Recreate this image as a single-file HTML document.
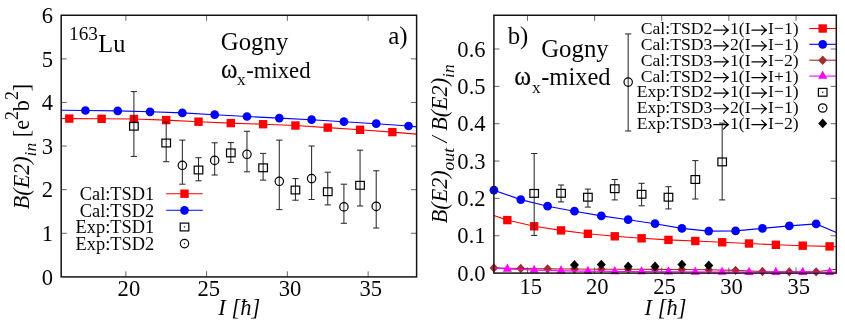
<!DOCTYPE html>
<html><head><meta charset="utf-8"><title>chart</title>
<style>html,body{margin:0;padding:0;background:#fff;}svg{display:block;}</style>
</head><body>
<svg width="845" height="329" viewBox="0 0 845 329" font-family='"Liberation Serif", serif' fill="#000" style="will-change:transform;font-kerning:none">
<style>text{stroke:#fff;stroke-width:0.03;paint-order:fill stroke}</style>
<rect width="845" height="329" fill="#fff"/>
<line x1="61.20" y1="233.29" x2="66.80" y2="233.29" stroke="#606060" stroke-width="0.95" />
<line x1="416.60" y1="233.29" x2="411.00" y2="233.29" stroke="#606060" stroke-width="0.95" />
<line x1="61.20" y1="189.68" x2="66.80" y2="189.68" stroke="#606060" stroke-width="0.95" />
<line x1="416.60" y1="189.68" x2="411.00" y2="189.68" stroke="#606060" stroke-width="0.95" />
<line x1="61.20" y1="146.07" x2="66.80" y2="146.07" stroke="#606060" stroke-width="0.95" />
<line x1="416.60" y1="146.07" x2="411.00" y2="146.07" stroke="#606060" stroke-width="0.95" />
<line x1="61.20" y1="102.47" x2="66.80" y2="102.47" stroke="#606060" stroke-width="0.95" />
<line x1="416.60" y1="102.47" x2="411.00" y2="102.47" stroke="#606060" stroke-width="0.95" />
<line x1="61.20" y1="58.86" x2="66.80" y2="58.86" stroke="#606060" stroke-width="0.95" />
<line x1="416.60" y1="58.86" x2="411.00" y2="58.86" stroke="#606060" stroke-width="0.95" />
<line x1="125.82" y1="276.90" x2="125.82" y2="271.30" stroke="#606060" stroke-width="0.95" />
<line x1="125.82" y1="15.25" x2="125.82" y2="20.85" stroke="#606060" stroke-width="0.95" />
<line x1="206.59" y1="276.90" x2="206.59" y2="271.30" stroke="#606060" stroke-width="0.95" />
<line x1="206.59" y1="15.25" x2="206.59" y2="20.85" stroke="#606060" stroke-width="0.95" />
<line x1="287.36" y1="276.90" x2="287.36" y2="271.30" stroke="#606060" stroke-width="0.95" />
<line x1="287.36" y1="15.25" x2="287.36" y2="20.85" stroke="#606060" stroke-width="0.95" />
<line x1="368.14" y1="276.90" x2="368.14" y2="271.30" stroke="#606060" stroke-width="0.95" />
<line x1="368.14" y1="15.25" x2="368.14" y2="20.85" stroke="#606060" stroke-width="0.95" />
<polyline fill="none" stroke="#ff0000" stroke-width="1.1" points="61.20,118.50 69.28,118.60 101.59,118.80 133.90,119.00 166.20,120.10 198.51,121.70 230.82,123.10 263.13,124.20 295.44,125.50 327.75,127.60 360.06,129.80 392.37,132.10 416.60,134.10"/>
<rect x="65.08" y="114.40" width="8.4" height="8.4" fill="#ff0000"/>
<rect x="97.39" y="114.60" width="8.4" height="8.4" fill="#ff0000"/>
<rect x="129.70" y="114.80" width="8.4" height="8.4" fill="#ff0000"/>
<rect x="162.00" y="115.90" width="8.4" height="8.4" fill="#ff0000"/>
<rect x="194.31" y="117.50" width="8.4" height="8.4" fill="#ff0000"/>
<rect x="226.62" y="118.90" width="8.4" height="8.4" fill="#ff0000"/>
<rect x="258.93" y="120.00" width="8.4" height="8.4" fill="#ff0000"/>
<rect x="291.24" y="121.30" width="8.4" height="8.4" fill="#ff0000"/>
<rect x="323.55" y="123.40" width="8.4" height="8.4" fill="#ff0000"/>
<rect x="355.86" y="125.60" width="8.4" height="8.4" fill="#ff0000"/>
<rect x="388.17" y="127.90" width="8.4" height="8.4" fill="#ff0000"/>
<polyline fill="none" stroke="#0000ff" stroke-width="1.1" points="61.20,110.20 85.43,110.50 117.74,110.90 150.05,111.80 182.36,112.90 214.67,114.70 246.98,116.50 279.29,118.10 311.60,119.70 343.90,121.70 376.21,123.70 408.52,126.00 416.60,126.90"/>
<circle cx="85.43" cy="110.50" r="4.35" fill="#0000ff"/>
<circle cx="117.74" cy="110.90" r="4.35" fill="#0000ff"/>
<circle cx="150.05" cy="111.80" r="4.35" fill="#0000ff"/>
<circle cx="182.36" cy="112.90" r="4.35" fill="#0000ff"/>
<circle cx="214.67" cy="114.70" r="4.35" fill="#0000ff"/>
<circle cx="246.98" cy="116.50" r="4.35" fill="#0000ff"/>
<circle cx="279.29" cy="118.10" r="4.35" fill="#0000ff"/>
<circle cx="311.60" cy="119.70" r="4.35" fill="#0000ff"/>
<circle cx="343.90" cy="121.70" r="4.35" fill="#0000ff"/>
<circle cx="376.21" cy="123.70" r="4.35" fill="#0000ff"/>
<circle cx="408.52" cy="126.00" r="4.35" fill="#0000ff"/>
<line x1="133.90" y1="91.60" x2="133.90" y2="156.40" stroke="#2a2a2a" stroke-width="1.05" />
<line x1="130.80" y1="91.60" x2="137.00" y2="91.60" stroke="#2a2a2a" stroke-width="1.05" />
<line x1="130.80" y1="156.40" x2="137.00" y2="156.40" stroke="#2a2a2a" stroke-width="1.05" />
<rect x="129.60" y="122.30" width="8.6" height="7.8" fill="none" stroke="#000" stroke-width="1.2"/>
<line x1="166.20" y1="122.20" x2="166.20" y2="161.70" stroke="#2a2a2a" stroke-width="1.05" />
<line x1="163.10" y1="122.20" x2="169.30" y2="122.20" stroke="#2a2a2a" stroke-width="1.05" />
<line x1="163.10" y1="161.70" x2="169.30" y2="161.70" stroke="#2a2a2a" stroke-width="1.05" />
<rect x="161.90" y="139.10" width="8.6" height="7.8" fill="none" stroke="#000" stroke-width="1.2"/>
<line x1="198.51" y1="157.70" x2="198.51" y2="180.80" stroke="#2a2a2a" stroke-width="1.05" />
<line x1="195.41" y1="157.70" x2="201.61" y2="157.70" stroke="#2a2a2a" stroke-width="1.05" />
<line x1="195.41" y1="180.80" x2="201.61" y2="180.80" stroke="#2a2a2a" stroke-width="1.05" />
<rect x="194.21" y="166.10" width="8.6" height="7.8" fill="none" stroke="#000" stroke-width="1.2"/>
<line x1="230.82" y1="142.60" x2="230.82" y2="162.40" stroke="#2a2a2a" stroke-width="1.05" />
<line x1="227.72" y1="142.60" x2="233.92" y2="142.60" stroke="#2a2a2a" stroke-width="1.05" />
<line x1="227.72" y1="162.40" x2="233.92" y2="162.40" stroke="#2a2a2a" stroke-width="1.05" />
<rect x="226.52" y="149.00" width="8.6" height="7.8" fill="none" stroke="#000" stroke-width="1.2"/>
<line x1="263.13" y1="153.40" x2="263.13" y2="180.10" stroke="#2a2a2a" stroke-width="1.05" />
<line x1="260.03" y1="153.40" x2="266.23" y2="153.40" stroke="#2a2a2a" stroke-width="1.05" />
<line x1="260.03" y1="180.10" x2="266.23" y2="180.10" stroke="#2a2a2a" stroke-width="1.05" />
<rect x="258.83" y="163.90" width="8.6" height="7.8" fill="none" stroke="#000" stroke-width="1.2"/>
<line x1="295.44" y1="178.60" x2="295.44" y2="200.20" stroke="#2a2a2a" stroke-width="1.05" />
<line x1="292.34" y1="178.60" x2="298.54" y2="178.60" stroke="#2a2a2a" stroke-width="1.05" />
<line x1="292.34" y1="200.20" x2="298.54" y2="200.20" stroke="#2a2a2a" stroke-width="1.05" />
<rect x="291.14" y="186.10" width="8.6" height="7.8" fill="none" stroke="#000" stroke-width="1.2"/>
<line x1="327.75" y1="172.20" x2="327.75" y2="204.90" stroke="#2a2a2a" stroke-width="1.05" />
<line x1="324.65" y1="172.20" x2="330.85" y2="172.20" stroke="#2a2a2a" stroke-width="1.05" />
<line x1="324.65" y1="204.90" x2="330.85" y2="204.90" stroke="#2a2a2a" stroke-width="1.05" />
<rect x="323.45" y="187.80" width="8.6" height="7.8" fill="none" stroke="#000" stroke-width="1.2"/>
<line x1="360.06" y1="150.20" x2="360.06" y2="206.00" stroke="#2a2a2a" stroke-width="1.05" />
<line x1="356.96" y1="150.20" x2="363.16" y2="150.20" stroke="#2a2a2a" stroke-width="1.05" />
<line x1="356.96" y1="206.00" x2="363.16" y2="206.00" stroke="#2a2a2a" stroke-width="1.05" />
<rect x="355.76" y="181.40" width="8.6" height="7.8" fill="none" stroke="#000" stroke-width="1.2"/>
<line x1="182.36" y1="140.10" x2="182.36" y2="184.20" stroke="#2a2a2a" stroke-width="1.05" />
<line x1="179.26" y1="140.10" x2="185.46" y2="140.10" stroke="#2a2a2a" stroke-width="1.05" />
<line x1="179.26" y1="184.20" x2="185.46" y2="184.20" stroke="#2a2a2a" stroke-width="1.05" />
<circle cx="182.36" cy="165.30" r="4.2" fill="none" stroke="#000" stroke-width="1.2"/>
<line x1="214.67" y1="142.80" x2="214.67" y2="175.00" stroke="#2a2a2a" stroke-width="1.05" />
<line x1="211.57" y1="142.80" x2="217.77" y2="142.80" stroke="#2a2a2a" stroke-width="1.05" />
<line x1="211.57" y1="175.00" x2="217.77" y2="175.00" stroke="#2a2a2a" stroke-width="1.05" />
<circle cx="214.67" cy="160.40" r="4.2" fill="none" stroke="#000" stroke-width="1.2"/>
<line x1="246.98" y1="131.30" x2="246.98" y2="171.80" stroke="#2a2a2a" stroke-width="1.05" />
<line x1="243.88" y1="131.30" x2="250.08" y2="131.30" stroke="#2a2a2a" stroke-width="1.05" />
<line x1="243.88" y1="171.80" x2="250.08" y2="171.80" stroke="#2a2a2a" stroke-width="1.05" />
<circle cx="246.98" cy="154.30" r="4.2" fill="none" stroke="#000" stroke-width="1.2"/>
<line x1="279.29" y1="140.10" x2="279.29" y2="209.60" stroke="#2a2a2a" stroke-width="1.05" />
<line x1="276.19" y1="140.10" x2="282.39" y2="140.10" stroke="#2a2a2a" stroke-width="1.05" />
<line x1="276.19" y1="209.60" x2="282.39" y2="209.60" stroke="#2a2a2a" stroke-width="1.05" />
<circle cx="279.29" cy="181.30" r="4.2" fill="none" stroke="#000" stroke-width="1.2"/>
<line x1="311.60" y1="146.00" x2="311.60" y2="199.50" stroke="#2a2a2a" stroke-width="1.05" />
<line x1="308.50" y1="146.00" x2="314.70" y2="146.00" stroke="#2a2a2a" stroke-width="1.05" />
<line x1="308.50" y1="199.50" x2="314.70" y2="199.50" stroke="#2a2a2a" stroke-width="1.05" />
<circle cx="311.60" cy="178.60" r="4.2" fill="none" stroke="#000" stroke-width="1.2"/>
<line x1="343.90" y1="184.20" x2="343.90" y2="223.30" stroke="#2a2a2a" stroke-width="1.05" />
<line x1="340.80" y1="184.20" x2="347.00" y2="184.20" stroke="#2a2a2a" stroke-width="1.05" />
<line x1="340.80" y1="223.30" x2="347.00" y2="223.30" stroke="#2a2a2a" stroke-width="1.05" />
<circle cx="343.90" cy="206.90" r="4.2" fill="none" stroke="#000" stroke-width="1.2"/>
<line x1="376.21" y1="170.80" x2="376.21" y2="228.00" stroke="#2a2a2a" stroke-width="1.05" />
<line x1="373.11" y1="170.80" x2="379.31" y2="170.80" stroke="#2a2a2a" stroke-width="1.05" />
<line x1="373.11" y1="228.00" x2="379.31" y2="228.00" stroke="#2a2a2a" stroke-width="1.05" />
<circle cx="376.21" cy="206.40" r="4.2" fill="none" stroke="#000" stroke-width="1.2"/>
<line x1="166.20" y1="193.70" x2="202.80" y2="193.70" stroke="#ff0000" stroke-width="1.1" />
<rect x="180.30" y="189.50" width="8.4" height="8.4" fill="#ff0000"/>
<line x1="166.20" y1="210.30" x2="202.80" y2="210.30" stroke="#0000ff" stroke-width="1.1" />
<circle cx="184.50" cy="210.30" r="4.35" fill="#0000ff"/>
<rect x="180.20" y="223.10" width="8.6" height="7.8" fill="none" stroke="#000" stroke-width="1.2"/>
<rect x="183.85" y="226.35" width="1.3" height="1.3" fill="#222"/>
<circle cx="184.50" cy="243.60" r="4.2" fill="none" stroke="#000" stroke-width="1.2"/>
<rect x="183.85" y="242.95" width="1.3" height="1.3" fill="#222"/>
<text x="154.30" y="200.00" font-size="18.4" text-anchor="end"  style="">Cal:TSD1</text>
<text x="154.30" y="217.00" font-size="18.4" text-anchor="end"  style="">Cal:TSD2</text>
<text x="154.30" y="233.00" font-size="18.4" text-anchor="end"  style="">Exp:TSD1</text>
<text x="154.30" y="250.00" font-size="18.4" text-anchor="end"  style="">Exp:TSD2</text>
<rect x="61.2" y="15.25" width="355.40" height="261.65" fill="none" stroke="#141414" stroke-width="1.5"/>
<text x="53.00" y="284.60" font-size="22.6" text-anchor="end"  style="">0</text>
<text x="53.00" y="240.99" font-size="22.6" text-anchor="end"  style="">1</text>
<text x="53.00" y="197.38" font-size="22.6" text-anchor="end"  style="">2</text>
<text x="53.00" y="153.77" font-size="22.6" text-anchor="end"  style="">3</text>
<text x="53.00" y="110.17" font-size="22.6" text-anchor="end"  style="">4</text>
<text x="53.00" y="66.56" font-size="22.6" text-anchor="end"  style="">5</text>
<text x="53.00" y="22.95" font-size="22.6" text-anchor="end"  style="">6</text>
<text x="128.92" y="296.00" font-size="22.6" text-anchor="middle"  style="">20</text>
<text x="208.69" y="296.00" font-size="22.6" text-anchor="middle"  style="">25</text>
<text x="290.06" y="296.00" font-size="22.6" text-anchor="middle"  style="">30</text>
<text x="370.84" y="296.00" font-size="22.6" text-anchor="middle"  style="">35</text>
<text x="239.30" y="315.00" font-size="22.5" text-anchor="middle"  style="font-style:italic">I [ħ]</text>
<text transform="translate(29.4,209.2) rotate(-90)" font-size="22.1"><tspan font-style="italic">B(E2)</tspan><tspan font-style="italic" font-size="17.6" dy="6.3">in</tspan><tspan dy="-6.3"> [e</tspan><tspan font-size="17.8" dy="-11.3">2</tspan><tspan dy="11.3">b</tspan><tspan font-size="17.8" dy="-11.3">2</tspan><tspan dy="11.3">]</tspan></text>
<text x="69.00" y="40.00" font-size="19.3" text-anchor="start"  style="">163</text>
<text x="98.30" y="51.80" font-size="24.3" text-anchor="start"  style="">Lu</text>
<text x="220.80" y="50.00" font-size="24.8" text-anchor="start"  style="">Gogny</text>
<text transform="translate(221.02,77.80) scale(0.9,1)" font-size="27.8" style="stroke:#000;stroke-width:0.15;paint-order:normal">ω</text>
<text x="236.94" y="85.10" font-size="17.3" text-anchor="start"  style="">x</text>
<text x="246.26" y="77.80" font-size="22.7" text-anchor="start"  style="">-mixed</text>
<text x="388.20" y="44.30" font-size="25.0" text-anchor="start"  style="">a)</text>
<line x1="493.90" y1="235.75" x2="499.50" y2="235.75" stroke="#606060" stroke-width="0.95" />
<line x1="836.30" y1="235.75" x2="830.70" y2="235.75" stroke="#606060" stroke-width="0.95" />
<line x1="493.90" y1="198.40" x2="499.50" y2="198.40" stroke="#606060" stroke-width="0.95" />
<line x1="836.30" y1="198.40" x2="830.70" y2="198.40" stroke="#606060" stroke-width="0.95" />
<line x1="493.90" y1="161.05" x2="499.50" y2="161.05" stroke="#606060" stroke-width="0.95" />
<line x1="836.30" y1="161.05" x2="830.70" y2="161.05" stroke="#606060" stroke-width="0.95" />
<line x1="493.90" y1="123.70" x2="499.50" y2="123.70" stroke="#606060" stroke-width="0.95" />
<line x1="836.30" y1="123.70" x2="830.70" y2="123.70" stroke="#606060" stroke-width="0.95" />
<line x1="493.90" y1="86.35" x2="499.50" y2="86.35" stroke="#606060" stroke-width="0.95" />
<line x1="836.30" y1="86.35" x2="830.70" y2="86.35" stroke="#606060" stroke-width="0.95" />
<line x1="493.90" y1="49.00" x2="499.50" y2="49.00" stroke="#606060" stroke-width="0.95" />
<line x1="836.30" y1="49.00" x2="830.70" y2="49.00" stroke="#606060" stroke-width="0.95" />
<line x1="527.47" y1="273.10" x2="527.47" y2="267.50" stroke="#606060" stroke-width="0.95" />
<line x1="527.47" y1="15.25" x2="527.47" y2="20.85" stroke="#606060" stroke-width="0.95" />
<line x1="594.61" y1="273.10" x2="594.61" y2="267.50" stroke="#606060" stroke-width="0.95" />
<line x1="594.61" y1="15.25" x2="594.61" y2="20.85" stroke="#606060" stroke-width="0.95" />
<line x1="661.74" y1="273.10" x2="661.74" y2="267.50" stroke="#606060" stroke-width="0.95" />
<line x1="661.74" y1="15.25" x2="661.74" y2="20.85" stroke="#606060" stroke-width="0.95" />
<line x1="728.88" y1="273.10" x2="728.88" y2="267.50" stroke="#606060" stroke-width="0.95" />
<line x1="728.88" y1="15.25" x2="728.88" y2="20.85" stroke="#606060" stroke-width="0.95" />
<line x1="796.02" y1="273.10" x2="796.02" y2="267.50" stroke="#606060" stroke-width="0.95" />
<line x1="796.02" y1="15.25" x2="796.02" y2="20.85" stroke="#606060" stroke-width="0.95" />
<polyline fill="none" stroke="#ff0000" stroke-width="1.1" points="493.90,215.50 507.33,220.10 534.18,226.30 561.04,230.40 587.89,233.80 614.75,236.30 641.60,238.30 668.46,239.90 695.31,241.00 722.17,242.30 749.02,243.50 775.88,244.80 802.73,245.70 829.59,246.40 836.30,246.70"/>
<rect x="503.13" y="215.90" width="8.4" height="8.4" fill="#ff0000"/>
<rect x="529.98" y="222.10" width="8.4" height="8.4" fill="#ff0000"/>
<rect x="556.84" y="226.20" width="8.4" height="8.4" fill="#ff0000"/>
<rect x="583.69" y="229.60" width="8.4" height="8.4" fill="#ff0000"/>
<rect x="610.55" y="232.10" width="8.4" height="8.4" fill="#ff0000"/>
<rect x="637.40" y="234.10" width="8.4" height="8.4" fill="#ff0000"/>
<rect x="664.26" y="235.70" width="8.4" height="8.4" fill="#ff0000"/>
<rect x="691.11" y="236.80" width="8.4" height="8.4" fill="#ff0000"/>
<rect x="717.97" y="238.10" width="8.4" height="8.4" fill="#ff0000"/>
<rect x="744.82" y="239.30" width="8.4" height="8.4" fill="#ff0000"/>
<rect x="771.68" y="240.60" width="8.4" height="8.4" fill="#ff0000"/>
<rect x="798.53" y="241.50" width="8.4" height="8.4" fill="#ff0000"/>
<rect x="825.39" y="242.20" width="8.4" height="8.4" fill="#ff0000"/>
<polyline fill="none" stroke="#0000ff" stroke-width="1.1" points="493.90,190.20 520.75,199.60 547.61,206.20 574.46,211.20 601.32,215.90 628.17,219.70 655.03,223.70 681.88,228.40 708.74,231.10 735.59,230.90 762.45,228.40 789.30,225.90 816.16,223.90 836.30,232.40"/>
<circle cx="493.90" cy="190.20" r="4.35" fill="#0000ff"/>
<circle cx="520.75" cy="199.60" r="4.35" fill="#0000ff"/>
<circle cx="547.61" cy="206.20" r="4.35" fill="#0000ff"/>
<circle cx="574.46" cy="211.20" r="4.35" fill="#0000ff"/>
<circle cx="601.32" cy="215.90" r="4.35" fill="#0000ff"/>
<circle cx="628.17" cy="219.70" r="4.35" fill="#0000ff"/>
<circle cx="655.03" cy="223.70" r="4.35" fill="#0000ff"/>
<circle cx="681.88" cy="228.40" r="4.35" fill="#0000ff"/>
<circle cx="708.74" cy="231.10" r="4.35" fill="#0000ff"/>
<circle cx="735.59" cy="230.90" r="4.35" fill="#0000ff"/>
<circle cx="762.45" cy="228.40" r="4.35" fill="#0000ff"/>
<circle cx="789.30" cy="225.90" r="4.35" fill="#0000ff"/>
<circle cx="816.16" cy="223.90" r="4.35" fill="#0000ff"/>
<polyline fill="none" stroke="#a52a2a" stroke-width="1.1" points="493.90,267.90 520.75,268.50 547.61,268.85 574.46,269.00 601.32,269.20 628.17,269.30 655.03,269.40 681.88,269.50 708.74,269.80 735.59,270.40 762.45,271.50 789.30,271.80 816.16,271.80 836.30,269.30"/>
<polygon fill="#a52a2a" points="489.59,267.90 493.90,263.24 498.21,267.90 493.90,272.56"/>
<polygon fill="#a52a2a" points="516.44,268.50 520.75,263.84 525.07,268.50 520.75,273.16"/>
<polygon fill="#a52a2a" points="543.30,268.85 547.61,264.19 551.92,268.85 547.61,273.51"/>
<polygon fill="#a52a2a" points="570.15,269.00 574.46,264.34 578.78,269.00 574.46,273.66"/>
<polygon fill="#a52a2a" points="597.01,269.20 601.32,264.54 605.63,269.20 601.32,273.86"/>
<polygon fill="#a52a2a" points="623.86,269.30 628.17,264.64 632.49,269.30 628.17,273.96"/>
<polygon fill="#a52a2a" points="650.72,269.40 655.03,264.74 659.34,269.40 655.03,274.06"/>
<polygon fill="#a52a2a" points="677.57,269.50 681.88,264.84 686.20,269.50 681.88,274.16"/>
<polygon fill="#a52a2a" points="704.43,269.80 708.74,265.14 713.05,269.80 708.74,274.46"/>
<polygon fill="#a52a2a" points="731.28,270.40 735.59,265.74 739.91,270.40 735.59,275.06"/>
<polygon fill="#a52a2a" points="758.14,271.50 762.45,266.84 766.76,271.50 762.45,276.16"/>
<polygon fill="#a52a2a" points="784.99,271.80 789.30,267.14 793.62,271.80 789.30,276.46"/>
<polygon fill="#a52a2a" points="811.85,271.80 816.16,267.14 820.47,271.80 816.16,276.46"/>
<polyline fill="none" stroke="#ff00ff" stroke-width="1.0" points="493.90,268.10 507.33,268.90 534.18,270.10 561.04,270.80 587.89,271.20 614.75,271.40 641.60,271.60 668.46,271.80 695.31,272.00 722.17,272.10 749.02,272.20 775.88,272.20 802.73,272.20 829.59,272.20 836.30,272.20"/>
<polygon fill="#ff00ff" points="502.83,271.63 511.83,271.63 507.33,263.43"/>
<polygon fill="#ff00ff" points="529.68,272.83 538.68,272.83 534.18,264.63"/>
<polygon fill="#ff00ff" points="556.54,273.53 565.54,273.53 561.04,265.33"/>
<polygon fill="#ff00ff" points="583.39,273.93 592.39,273.93 587.89,265.73"/>
<polygon fill="#ff00ff" points="610.25,274.13 619.25,274.13 614.75,265.93"/>
<polygon fill="#ff00ff" points="637.10,274.33 646.10,274.33 641.60,266.13"/>
<polygon fill="#ff00ff" points="663.96,274.53 672.96,274.53 668.46,266.33"/>
<polygon fill="#ff00ff" points="690.81,274.73 699.81,274.73 695.31,266.53"/>
<polygon fill="#ff00ff" points="717.67,274.83 726.67,274.83 722.17,266.63"/>
<polygon fill="#ff00ff" points="744.52,274.93 753.52,274.93 749.02,266.73"/>
<polygon fill="#ff00ff" points="771.38,274.93 780.38,274.93 775.88,266.73"/>
<polygon fill="#ff00ff" points="798.23,274.93 807.23,274.93 802.73,266.73"/>
<polygon fill="#ff00ff" points="825.09,274.93 834.09,274.93 829.59,266.73"/>
<line x1="534.18" y1="153.50" x2="534.18" y2="235.40" stroke="#2a2a2a" stroke-width="1.05" />
<line x1="531.08" y1="153.50" x2="537.28" y2="153.50" stroke="#2a2a2a" stroke-width="1.05" />
<line x1="531.08" y1="235.40" x2="537.28" y2="235.40" stroke="#2a2a2a" stroke-width="1.05" />
<rect x="529.88" y="189.50" width="8.6" height="7.8" fill="none" stroke="#000" stroke-width="1.2"/>
<line x1="561.04" y1="185.00" x2="561.04" y2="201.90" stroke="#2a2a2a" stroke-width="1.05" />
<line x1="557.94" y1="185.00" x2="564.14" y2="185.00" stroke="#2a2a2a" stroke-width="1.05" />
<line x1="557.94" y1="201.90" x2="564.14" y2="201.90" stroke="#2a2a2a" stroke-width="1.05" />
<rect x="556.74" y="189.40" width="8.6" height="7.8" fill="none" stroke="#000" stroke-width="1.2"/>
<line x1="587.89" y1="189.10" x2="587.89" y2="207.10" stroke="#2a2a2a" stroke-width="1.05" />
<line x1="584.79" y1="189.10" x2="590.99" y2="189.10" stroke="#2a2a2a" stroke-width="1.05" />
<line x1="584.79" y1="207.10" x2="590.99" y2="207.10" stroke="#2a2a2a" stroke-width="1.05" />
<rect x="583.59" y="193.30" width="8.6" height="7.8" fill="none" stroke="#000" stroke-width="1.2"/>
<line x1="614.75" y1="179.50" x2="614.75" y2="199.90" stroke="#2a2a2a" stroke-width="1.05" />
<line x1="611.65" y1="179.50" x2="617.85" y2="179.50" stroke="#2a2a2a" stroke-width="1.05" />
<line x1="611.65" y1="199.90" x2="617.85" y2="199.90" stroke="#2a2a2a" stroke-width="1.05" />
<rect x="610.45" y="184.80" width="8.6" height="7.8" fill="none" stroke="#000" stroke-width="1.2"/>
<line x1="641.60" y1="183.30" x2="641.60" y2="205.80" stroke="#2a2a2a" stroke-width="1.05" />
<line x1="638.50" y1="183.30" x2="644.70" y2="183.30" stroke="#2a2a2a" stroke-width="1.05" />
<line x1="638.50" y1="205.80" x2="644.70" y2="205.80" stroke="#2a2a2a" stroke-width="1.05" />
<rect x="637.30" y="190.40" width="8.6" height="7.8" fill="none" stroke="#000" stroke-width="1.2"/>
<line x1="668.46" y1="186.70" x2="668.46" y2="208.90" stroke="#2a2a2a" stroke-width="1.05" />
<line x1="665.36" y1="186.70" x2="671.56" y2="186.70" stroke="#2a2a2a" stroke-width="1.05" />
<line x1="665.36" y1="208.90" x2="671.56" y2="208.90" stroke="#2a2a2a" stroke-width="1.05" />
<rect x="664.16" y="193.30" width="8.6" height="7.8" fill="none" stroke="#000" stroke-width="1.2"/>
<line x1="695.31" y1="160.60" x2="695.31" y2="199.00" stroke="#2a2a2a" stroke-width="1.05" />
<line x1="692.21" y1="160.60" x2="698.41" y2="160.60" stroke="#2a2a2a" stroke-width="1.05" />
<line x1="692.21" y1="199.00" x2="698.41" y2="199.00" stroke="#2a2a2a" stroke-width="1.05" />
<rect x="691.01" y="175.60" width="8.6" height="7.8" fill="none" stroke="#000" stroke-width="1.2"/>
<line x1="722.17" y1="123.10" x2="722.17" y2="199.90" stroke="#2a2a2a" stroke-width="1.05" />
<line x1="719.07" y1="123.10" x2="725.27" y2="123.10" stroke="#2a2a2a" stroke-width="1.05" />
<line x1="719.07" y1="199.90" x2="725.27" y2="199.90" stroke="#2a2a2a" stroke-width="1.05" />
<rect x="717.87" y="158.00" width="8.6" height="7.8" fill="none" stroke="#000" stroke-width="1.2"/>
<line x1="628.17" y1="33.90" x2="628.17" y2="131.00" stroke="#2a2a2a" stroke-width="1.05" />
<line x1="625.07" y1="33.90" x2="631.27" y2="33.90" stroke="#2a2a2a" stroke-width="1.05" />
<line x1="625.07" y1="131.00" x2="631.27" y2="131.00" stroke="#2a2a2a" stroke-width="1.05" />
<circle cx="628.17" cy="82.10" r="4.2" fill="none" stroke="#000" stroke-width="1.2"/>
<polygon fill="#000" points="569.96,264.90 574.46,260.02 578.97,264.90 574.46,269.78"/>
<polygon fill="#000" points="596.81,264.60 601.32,259.72 605.83,264.60 601.32,269.48"/>
<polygon fill="#000" points="623.67,266.40 628.17,261.52 632.68,266.40 628.17,271.28"/>
<polygon fill="#000" points="650.52,266.40 655.03,261.52 659.54,266.40 655.03,271.28"/>
<polygon fill="#000" points="677.38,264.60 681.88,259.72 686.39,264.60 681.88,269.48"/>
<polygon fill="#000" points="704.23,265.50 708.74,260.62 713.25,265.50 708.74,270.38"/>
<line x1="809.30" y1="28.50" x2="836.30" y2="28.50" stroke="#ff0000" stroke-width="1.1" />
<line x1="809.30" y1="44.30" x2="836.30" y2="44.30" stroke="#0000ff" stroke-width="1.1" />
<line x1="809.30" y1="60.20" x2="836.30" y2="60.20" stroke="#a52a2a" stroke-width="1.1" />
<line x1="809.30" y1="76.10" x2="836.30" y2="76.10" stroke="#ff00ff" stroke-width="1.1" />
<rect x="818.50" y="24.30" width="8.4" height="8.4" fill="#ff0000"/>
<circle cx="822.70" cy="44.30" r="4.35" fill="#0000ff"/>
<polygon fill="#a52a2a" points="818.29,60.20 822.70,55.43 827.11,60.20 822.70,64.97"/>
<polygon fill="#ff00ff" points="818.20,78.75 827.20,78.75 822.70,70.55"/>
<rect x="818.40" y="88.40" width="8.6" height="7.8" fill="none" stroke="#000" stroke-width="1.2"/>
<rect x="822.0500000000001" y="91.64999999999999" width="1.3" height="1.3" fill="#222"/>
<circle cx="822.70" cy="108.00" r="4.2" fill="none" stroke="#000" stroke-width="1.2"/>
<rect x="822.0500000000001" y="107.35" width="1.3" height="1.3" fill="#222"/>
<polygon fill="#000" points="818.19,123.40 822.70,118.52 827.21,123.40 822.70,128.28"/>
<text x="640.72" y="34.30" font-size="17.7" text-anchor="start"  style="">Cal:TSD2</text>
<path d="M713.80,30.14 H727.97 M723.59,25.72 Q725.74,28.59 728.37,30.14 Q725.74,31.69 723.59,34.57" fill="none" stroke="#000" stroke-width="1.2" stroke-linecap="round" stroke-linejoin="round"/>
<text x="729.97" y="34.30" font-size="17.7" text-anchor="start"  style="">1(I</text>
<path d="M751.91,30.14 H766.08 M761.70,25.72 Q763.85,28.59 766.48,30.14 Q763.85,31.69 761.70,34.57" fill="none" stroke="#000" stroke-width="1.2" stroke-linecap="round" stroke-linejoin="round"/>
<text x="768.08" y="34.30" font-size="17.7" text-anchor="start"  style="">I−1)</text>
<text x="640.72" y="50.10" font-size="17.7" text-anchor="start"  style="">Cal:TSD3</text>
<path d="M713.80,45.94 H727.97 M723.59,41.52 Q725.74,44.39 728.37,45.94 Q725.74,47.49 723.59,50.37" fill="none" stroke="#000" stroke-width="1.2" stroke-linecap="round" stroke-linejoin="round"/>
<text x="729.97" y="50.10" font-size="17.7" text-anchor="start"  style="">2(I</text>
<path d="M751.91,45.94 H766.08 M761.70,41.52 Q763.85,44.39 766.48,45.94 Q763.85,47.49 761.70,50.37" fill="none" stroke="#000" stroke-width="1.2" stroke-linecap="round" stroke-linejoin="round"/>
<text x="768.08" y="50.10" font-size="17.7" text-anchor="start"  style="">I−1)</text>
<text x="640.72" y="66.00" font-size="17.7" text-anchor="start"  style="">Cal:TSD3</text>
<path d="M713.80,61.84 H727.97 M723.59,57.42 Q725.74,60.29 728.37,61.84 Q725.74,63.39 723.59,66.27" fill="none" stroke="#000" stroke-width="1.2" stroke-linecap="round" stroke-linejoin="round"/>
<text x="729.97" y="66.00" font-size="17.7" text-anchor="start"  style="">1(I</text>
<path d="M751.91,61.84 H766.08 M761.70,57.42 Q763.85,60.29 766.48,61.84 Q763.85,63.39 761.70,66.27" fill="none" stroke="#000" stroke-width="1.2" stroke-linecap="round" stroke-linejoin="round"/>
<text x="768.08" y="66.00" font-size="17.7" text-anchor="start"  style="">I−2)</text>
<text x="640.72" y="81.70" font-size="17.7" text-anchor="start"  style="">Cal:TSD2</text>
<path d="M713.80,77.54 H727.97 M723.59,73.12 Q725.74,75.99 728.37,77.54 Q725.74,79.09 723.59,81.97" fill="none" stroke="#000" stroke-width="1.2" stroke-linecap="round" stroke-linejoin="round"/>
<text x="729.97" y="81.70" font-size="17.7" text-anchor="start"  style="">1(I</text>
<path d="M751.91,77.54 H766.08 M761.70,73.12 Q763.85,75.99 766.48,77.54 Q763.85,79.09 761.70,81.97" fill="none" stroke="#000" stroke-width="1.2" stroke-linecap="round" stroke-linejoin="round"/>
<text x="768.08" y="81.70" font-size="17.7" text-anchor="start"  style="">I+1)</text>
<text x="636.78" y="97.20" font-size="17.7" text-anchor="start"  style="">Exp:TSD2</text>
<path d="M713.80,93.04 H727.97 M723.59,88.62 Q725.74,91.49 728.37,93.04 Q725.74,94.59 723.59,97.47" fill="none" stroke="#000" stroke-width="1.2" stroke-linecap="round" stroke-linejoin="round"/>
<text x="729.97" y="97.20" font-size="17.7" text-anchor="start"  style="">1(I</text>
<path d="M751.91,93.04 H766.08 M761.70,88.62 Q763.85,91.49 766.48,93.04 Q763.85,94.59 761.70,97.47" fill="none" stroke="#000" stroke-width="1.2" stroke-linecap="round" stroke-linejoin="round"/>
<text x="768.08" y="97.20" font-size="17.7" text-anchor="start"  style="">I−1)</text>
<text x="636.78" y="112.90" font-size="17.7" text-anchor="start"  style="">Exp:TSD3</text>
<path d="M713.80,108.74 H727.97 M723.59,104.32 Q725.74,107.19 728.37,108.74 Q725.74,110.29 723.59,113.17" fill="none" stroke="#000" stroke-width="1.2" stroke-linecap="round" stroke-linejoin="round"/>
<text x="729.97" y="112.90" font-size="17.7" text-anchor="start"  style="">2(I</text>
<path d="M751.91,108.74 H766.08 M761.70,104.32 Q763.85,107.19 766.48,108.74 Q763.85,110.29 761.70,113.17" fill="none" stroke="#000" stroke-width="1.2" stroke-linecap="round" stroke-linejoin="round"/>
<text x="768.08" y="112.90" font-size="17.7" text-anchor="start"  style="">I−1)</text>
<text x="636.78" y="128.80" font-size="17.7" text-anchor="start"  style="">Exp:TSD3</text>
<path d="M713.80,124.64 H727.97 M723.59,120.22 Q725.74,123.09 728.37,124.64 Q725.74,126.19 723.59,129.07" fill="none" stroke="#000" stroke-width="1.2" stroke-linecap="round" stroke-linejoin="round"/>
<text x="729.97" y="128.80" font-size="17.7" text-anchor="start"  style="">1(I</text>
<path d="M751.91,124.64 H766.08 M761.70,120.22 Q763.85,123.09 766.48,124.64 Q763.85,126.19 761.70,129.07" fill="none" stroke="#000" stroke-width="1.2" stroke-linecap="round" stroke-linejoin="round"/>
<text x="768.08" y="128.80" font-size="17.7" text-anchor="start"  style="">I−2)</text>
<rect x="493.9" y="15.25" width="342.40" height="257.85" fill="none" stroke="#141414" stroke-width="1.5"/>
<g opacity="0.5">
<polyline fill="none" stroke="#ff00ff" stroke-width="1.0" points="493.90,268.10 507.33,268.90 534.18,270.10 561.04,270.80 587.89,271.20 614.75,271.40 641.60,271.60 668.46,271.80 695.31,272.00 722.17,272.10 749.02,272.20 775.88,272.20 802.73,272.20 829.59,272.20 836.30,272.20"/>
</g>
<text x="485.60" y="280.80" font-size="22.6" text-anchor="end"  style="">0.0</text>
<text x="485.60" y="243.45" font-size="22.6" text-anchor="end"  style="">0.1</text>
<text x="485.60" y="206.10" font-size="22.6" text-anchor="end"  style="">0.2</text>
<text x="485.60" y="168.75" font-size="22.6" text-anchor="end"  style="">0.3</text>
<text x="485.60" y="131.40" font-size="22.6" text-anchor="end"  style="">0.4</text>
<text x="485.60" y="94.05" font-size="22.6" text-anchor="end"  style="">0.5</text>
<text x="485.60" y="56.70" font-size="22.6" text-anchor="end"  style="">0.6</text>
<text x="530.77" y="293.70" font-size="22.6" text-anchor="middle"  style="">15</text>
<text x="597.31" y="293.70" font-size="22.6" text-anchor="middle"  style="">20</text>
<text x="664.44" y="293.70" font-size="22.6" text-anchor="middle"  style="">25</text>
<text x="731.58" y="293.70" font-size="22.6" text-anchor="middle"  style="">30</text>
<text x="798.72" y="293.70" font-size="22.6" text-anchor="middle"  style="">35</text>
<text x="665.50" y="315.00" font-size="22.5" text-anchor="middle"  style="font-style:italic">I [ħ]</text>
<text transform="translate(447.0,223.2) rotate(-90)" font-size="22.1" font-style="italic">B(E2)<tspan font-size="17.6" dy="6.8">out</tspan><tspan dy="-6.8"> / B(E2)</tspan><tspan font-size="17.6" dy="6.8">in</tspan></text>
<text x="507.70" y="43.70" font-size="24.8" text-anchor="start"  style="">b)</text>
<text x="541.20" y="57.30" font-size="24.8" text-anchor="start"  style="">Gogny</text>
<text transform="translate(514.20,85.20) scale(0.92,1)" font-size="27.8" style="stroke:#000;stroke-width:0.15;paint-order:normal">ω</text>
<text x="532.04" y="92.80" font-size="17.3" text-anchor="start"  style="">x</text>
<text x="541.19" y="85.20" font-size="24.5" text-anchor="start"  style="">-mixed</text>
</svg>
</body></html>
